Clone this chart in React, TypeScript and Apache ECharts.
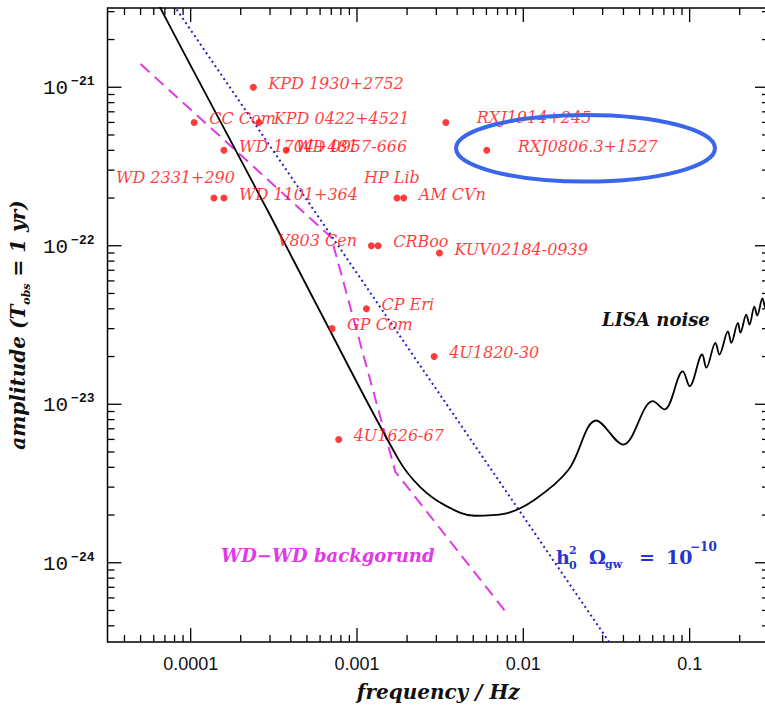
import React, { useEffect, useRef } from "react";
import * as echarts from "echarts";

// ---------- data ----------
const sourceNames = [
  "KPD 1930+2752", "CC Com", "KPD 0422+4521", "WD 1704+481", "WD 0957-666",
  "WD 2331+290", "WD 1101+364", "RXJ1914+245", "RXJ0806.3+1527", "HP Lib",
  "AM CVn", "V803 Cen", "CRBoo", "KUV02184-0939", "CP Eri", "GP Com",
  "4U1820-30", "4U1626-67",
];
const sourceFreq = [
  2.38e-4, 1.05e-4, 2.57e-4, 1.585e-4, 3.75e-4,
  1.38e-4, 1.585e-4, 3.42e-3, 6.03e-3, 1.74e-3,
  1.91e-3, 1.22e-3, 1.34e-3, 3.13e-3, 1.14e-3, 7.08e-4,
  2.91e-3, 7.76e-4,
];
const sourceAmp = [
  1.0e-21, 6.0e-22, 6.0e-22, 4.0e-22, 4.0e-22,
  2.0e-22, 2.0e-22, 6.0e-22, 4.0e-22, 2.0e-22,
  2.0e-22, 1.0e-22, 1.0e-22, 9.0e-23, 4.0e-23, 3.0e-23,
  2.0e-23, 6.0e-24,
];

const lisaFreq = [
  6.0e-5, 9.55e-5, 3.02e-4, 5.5e-4, 1.78e-3, 2.4e-3, 3.39e-3, 5.1e-3, 7.76e-3,
  1.17e-2, 1.87e-2, 2.75e-2, 3.98e-2, 6.01e-2, 7.06e-2, 9.1e-2, 0.1, 0.119,
  0.126, 0.143, 0.151, 0.17, 0.178, 0.195, 0.202, 0.219, 0.229, 0.245, 0.255,
  0.274, 0.285, 0.301,
];
const lisaAmp = [
  3.8e-21, 1.5e-21, 1.54e-22, 4.58e-23, 4.47e-24, 3.0e-24, 2.3e-24, 1.98e-24, 2.04e-24,
  2.5e-24, 3.86e-24, 7.9e-24, 5.57e-24, 1.045e-23, 9.27e-24, 1.61e-23, 1.3e-23, 2.06e-23,
  1.7e-23, 2.44e-23, 2.06e-23, 2.88e-23, 2.44e-23, 3.26e-23, 2.83e-23, 3.68e-23, 3.18e-23, 4.13e-23, 3.63e-23,
  4.65e-23, 4.07e-23, 5.1e-23,
];

const wdFreq = [5.0e-5, 7.0e-4, 1.7e-3, 7.76e-3];
const wdAmp = [1.4e-21, 1.13e-22, 3.75e-24, 4.97e-25];

const omegaFreq = [7.0e-5, 3.31e-2];
const omegaAmp = [3.97e-21, 3.12e-25];

// axis extent and tick values
const X_MIN = Math.pow(10, -4.5);
const X_MAX = 0.3;
const Y_MIN = Math.pow(10, -24.5);
const Y_MAX = Math.pow(10, -20.5);
const xMajorTicks = [1e-4, 1e-3, 1e-2, 1e-1];
const yMajorTicks = [1e-24, 1e-23, 1e-22, 1e-21];
const minorMantissas = [2, 3, 4, 5, 6, 7, 8, 9];

// label placement (pixel offsets) for each source
const labelLayout: Record<string, { side: "right" | "left"; dx: number; dy: number }> = {
  "WD 2331+290": { side: "right", dx: -113, dy: -21 },
  "HP Lib": { side: "right", dx: -48, dy: -21 },
  "V803 Cen": { side: "left", dx: 0, dy: -5 },
  "RXJ1914+245": { side: "right", dx: 16, dy: -5 },
  "RXJ0806.3+1527": { side: "right", dx: 16, dy: -4 },
  "WD 0957-666": { side: "right", dx: -5, dy: -4 },
};

const RED = "#ff0a0a";
const MAGENTA = "#e03ae6";
const BLUE = "#2633d6";
const SERIF = "'DejaVu Serif', serif";

function buildTicks() {
  const out: number[][] = [];
  for (const v of xMajorTicks) out.push([v, Y_MIN, 0]);
  for (let e = -5; e <= -1; e++)
    for (const m of minorMantissas) {
      const v = m * Math.pow(10, e);
      if (v > X_MIN && v < X_MAX) out.push([v, Y_MIN, 1]);
    }
  for (const v of yMajorTicks) out.push([X_MIN, v, 2]);
  for (let e = -25; e <= -21; e++)
    for (const m of minorMantissas) {
      const v = m * Math.pow(10, e);
      if (v > Y_MIN && v < Y_MAX) out.push([X_MIN, v, 3]);
    }
  return out;
}

function isPow10(v: number) {
  const e = Math.log10(v);
  return Math.abs(e - Math.round(e)) < 1e-6;
}

export default function App() {
  const ref = useRef<HTMLDivElement>(null);
  useEffect(() => {
    if (!ref.current) return;
    const chart = echarts.init(ref.current, undefined, { renderer: "svg" });

    const scatterData = sourceNames.map((name, i) => {
      const lay = labelLayout[name] || { side: "right", dx: 0, dy: -4 };
      return {
        name,
        value: [sourceFreq[i], sourceAmp[i]],
        label: {
          position: lay.side,
          distance: lay.side === "right" ? 11.5 : 10.8,
          offset: [lay.dx, lay.dy],
        },
      };
    });

    const tickStyle = { stroke: "#000", lineWidth: 1.3 };
    const bt = (text: string, x: number, y: number, size: number) => ({
      type: "text",
      x,
      y,
      style: {
        text,
        font: `bold ${size}px 'DejaVu Serif'`,
        fill: BLUE,
        align: "left",
        verticalAlign: "middle",
      },
    });

    chart.setOption({
      animation: false,
      backgroundColor: "#fff",
      grid: {
        left: 107,
        top: 8,
        width: 662,
        height: 635,
        show: true,
        borderColor: "#000",
        borderWidth: 1.5,
        backgroundColor: "transparent",
      },
      xAxis: {
        type: "log",
        logBase: 10,
        min: X_MIN,
        max: X_MAX,
        axisLine: { show: false },
        axisTick: { show: false },
        splitLine: { show: false },
        axisLabel: {
          margin: 13,
          fontFamily: "'Liberation Sans', Arial, sans-serif",
          fontSize: 18,
          color: "#111",
          showMinLabel: false,
          showMaxLabel: false,
          formatter: (v: number) => {
            if (!isPow10(v)) return "";
            const e = Math.round(Math.log10(v));
            return v.toFixed(-e);
          },
        },
        name: "frequency / Hz",
        nameLocation: "middle",
        nameGap: 40,
        nameTextStyle: {
          fontFamily: SERIF,
          fontStyle: "italic",
          fontWeight: "bold",
          fontSize: 20,
          color: "#111",
        },
      },
      yAxis: {
        type: "log",
        logBase: 10,
        min: Y_MIN,
        max: Y_MAX,
        axisLine: { show: false },
        axisTick: { show: false },
        splitLine: { show: false },
        axisLabel: {
          margin: 13,
          showMinLabel: false,
          showMaxLabel: false,
          formatter: (v: number) => {
            if (!isPow10(v)) return "";
            const e = Math.round(Math.log10(v));
            return `{b|10}{s|\u2212${Math.abs(e)}}`;
          },
          rich: {
            b: { fontFamily: "'Liberation Mono', monospace", fontSize: 21, color: "#111", lineHeight: 24, verticalAlign: "bottom" },
            s: { fontFamily: "'Liberation Mono', monospace", fontSize: 13, color: "#111", lineHeight: 24, verticalAlign: "top", fontWeight: "bold", padding: [0, 0, 0, 3] },
          },
        },
        name: "amplitude (T{sub|obs} = 1 yr)",
        nameLocation: "middle",
        nameGap: 49,
        nameTextStyle: {
          fontFamily: SERIF,
          fontStyle: "italic",
          fontWeight: "bold",
          fontSize: 20,
          color: "#111",
          rich: {
            sub: { fontFamily: SERIF, fontStyle: "italic", fontWeight: "bold", fontSize: 11, color: "#111", verticalAlign: "bottom", lineHeight: 28 },
          },
        },
      },
      series: [
        {
          type: "custom",
          silent: true,
          clip: false,
          encode: { x: 0, y: 1 },
          data: buildTicks(),
          renderItem: (params: any, api: any) => {
            const kind = api.value(2);
            const cs = params.coordSys;
            const p = api.coord([api.value(0), api.value(1)]);
            const len = kind % 2 === 0 ? 14 : 7;
            if (kind < 2) {
              const b = cs.y + cs.height;
              return {
                type: "group",
                children: [
                  { type: "line", shape: { x1: p[0], y1: b, x2: p[0], y2: b - len }, style: tickStyle },
                  { type: "line", shape: { x1: p[0], y1: cs.y, x2: p[0], y2: cs.y + len }, style: tickStyle },
                ],
              };
            }
            const r = cs.x + cs.width;
            return {
              type: "group",
              children: [
                { type: "line", shape: { x1: cs.x, y1: p[1], x2: cs.x + len, y2: p[1] }, style: tickStyle },
                { type: "line", shape: { x1: r, y1: p[1], x2: r - len, y2: p[1] }, style: tickStyle },
              ],
            };
          },
          z: 5,
        },
        {
          name: "WD-WD background",
          type: "line",
          data: wdFreq.map((f, i) => [f, wdAmp[i]]),
          showSymbol: false,
          lineStyle: { color: MAGENTA, width: 2, type: [12, 7] },
          z: 2,
        },
        {
          name: "Omega",
          type: "line",
          data: omegaFreq.map((f, i) => [f, omegaAmp[i]]),
          showSymbol: false,
          lineStyle: { color: "#2020c8", width: 2, type: [2, 3.2] },
          z: 2,
        },
        {
          name: "LISA noise",
          type: "line",
          data: lisaFreq.map((f, i) => [f, lisaAmp[i]]),
          showSymbol: false,
          smooth: 0.35,
          lineStyle: { color: "#000", width: 1.8 },
          z: 3,
        },
        {
          name: "sources",
          type: "scatter",
          data: scatterData,
          symbol: "circle",
          symbolSize: 7,
          itemStyle: { color: RED },
          label: {
            show: true,
            formatter: "{b}",
            color: RED,
            fontFamily: SERIF,
            fontStyle: "italic",
            fontSize: 16,
          },
          z: 4,
        },
      ],
      graphic: [
        {
          type: "text",
          left: 602,
          top: 310,
          style: {
            text: "LISA noise",
            font: "italic bold 18px 'DejaVu Serif'",
            fill: "#111",
          },
        },
        {
          type: "text",
          left: 221,
          top: 546,
          style: {
            text: "WD\u2212WD backgorund",
            font: "italic bold 18px 'DejaVu Serif'",
            fill: MAGENTA,
          },
        },
        {
          type: "group",
          x: 556,
          y: 557,
          children: [
            bt("h", 0, 0, 19),
            bt("2", 13, -7, 11),
            bt("0", 13, 8, 11),
            bt("\u03A9", 33, 0, 19),
            bt("gw", 49, 7, 11),
            bt("=", 83, 0, 19),
            bt("10", 110, 0, 19),
            bt("\u221210", 134, -10, 12),
          ],
        },
        {
          type: "ellipse",
          shape: { cx: 585.5, cy: 148.3, rx: 129.5, ry: 33.3 },
          style: { fill: "none", stroke: "#3a66ea", lineWidth: 4 },
          z: 100,
        },
      ],
    });
    return () => chart.dispose();
  }, []);
  return (
    <div
      ref={ref}
      style={{ position: "fixed", left: 0, top: 0, width: 775, height: 707, background: "#fff" }}
    />
  );
}
